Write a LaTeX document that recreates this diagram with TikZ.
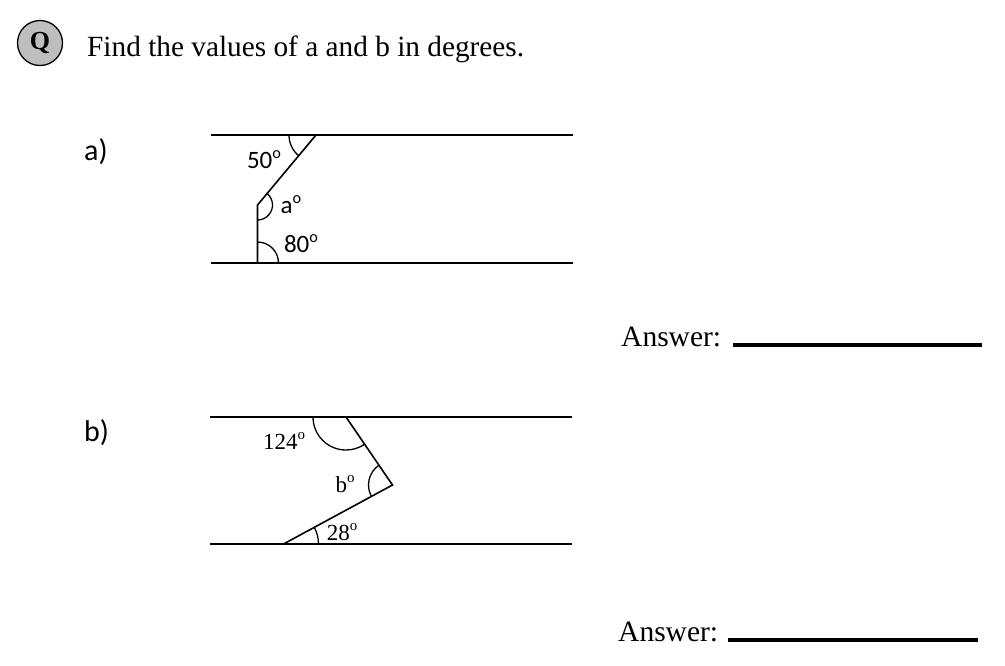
\documentclass[tikz,border=0pt]{standalone}
\usepackage{fontspec}
\setmainfont{Liberation Serif}
\newfontfamily\calib{Carlito}
\newcommand{\dg}{\raisebox{0.4em}{\scalebox{0.65}{o}}}
\begin{document}
\begin{tikzpicture}[x=1pt,y=-1pt,
  geo/.style={line width=1.6pt,black},
  arcln/.style={line width=1.3pt,black},
  ansline/.style={line width=3.2pt,black},
  title/.style={font=\fontsize{29.3}{32}\selectfont,anchor=base west,inner sep=0pt},
  lab/.style={font=\calib\fontsize{30}{32}\selectfont,anchor=base west,inner sep=0pt},
  angA/.style={font=\calib\fontsize{25}{27}\selectfont,inner sep=0pt},
  angB/.style={font=\fontsize{23}{25}\selectfont,inner sep=0pt},
  ans/.style={font=\fontsize{29.5}{32}\selectfont,anchor=base west,inner sep=0pt}]
\useasboundingbox (0,0) rectangle (1005,665);
% header
\node[circle,draw,line width=1.3pt,fill={rgb,255:red,190;green,190;blue,190},minimum size=45pt,inner sep=0pt,font=\bfseries\fontsize{26}{28}\selectfont] (q) at (40,43) {Q};
\node[title] (t) at (87,56) {Find the values of a and b in degrees.};
% part a
\node[lab] (la) at (84,160) {a)};
\coordinate (a1) at (211,135);
\coordinate (a2) at (573,135);
\coordinate (a3) at (211,263);
\coordinate (a4) at (573,263);
\coordinate (aT) at (316,135);
\coordinate (aM) at (257.5,205);
\coordinate (aB) at (257.5,263);
\draw[geo] (a1) -- (a2);
\draw[geo] (a3) -- (a4);
\draw[geo] (aT) -- (aM) -- (aB);
\draw[arcln] (aT) ++(-27,0) arc[start angle=-180,end angle=-230,radius=27];
\draw[arcln] (aM) ++(-50:15) arc[start angle=-50,end angle=90,radius=15];
\draw[arcln] (aB) ++(21,0) arc[start angle=0,end angle=-90,radius=21];
\node[angA] (n50) at (264,160) {50\dg};
\node[angA] (na) at (291,205) {a\dg};
\node[angA] (n80) at (301,244) {80\dg};
% part b
\node[lab] (lb) at (84,441) {b)};
\coordinate (b1) at (210,417);
\coordinate (b2) at (572,417);
\coordinate (b3) at (210,544);
\coordinate (b4) at (572,544);
\coordinate (bT) at (346,417);
\coordinate (bM) at (392.5,485);
\coordinate (bB) at (283.5,544);
\draw[geo] (b1) -- (b2);
\draw[geo] (b3) -- (b4);
\draw[geo] (bT) -- (bM) -- (bB);
\draw[arcln] (bT) ++(-33,0) arc[start angle=-180,end angle=-304.4,radius=33];
\draw[arcln] (bM) ++(-124.4:24) arc[start angle=-124.4,end angle=-208.3,radius=24];
\draw[arcln] (bB) ++(35,0) arc[start angle=0,end angle=-28.3,radius=35];
\node[angB] (n124) at (284,441) {124\dg};
\node[angB] (nb) at (345,484) {b\dg};
\node[angB] (n28) at (342,532) {28\dg};
% answers
\node[ans] (ansA) at (621,346) {Answer:};
\coordinate (la1) at (733,345);
\coordinate (la2) at (982,345);
\draw[ansline] (la1) -- (la2);
\node[ans] (ansB) at (618,641) {Answer:};
\coordinate (lb1) at (728,640);
\coordinate (lb2) at (978,640);
\draw[ansline] (lb1) -- (lb2);
\end{tikzpicture}
\end{document}
